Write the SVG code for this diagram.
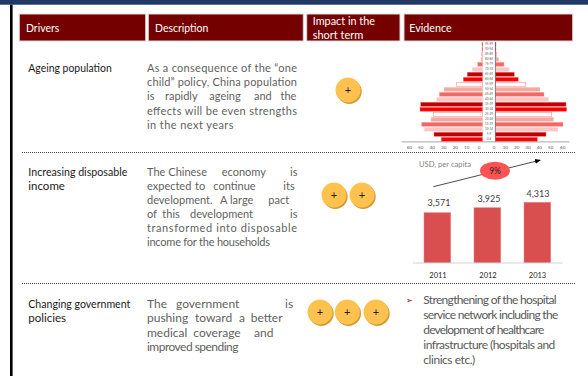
<svg xmlns="http://www.w3.org/2000/svg" width="588" height="376" viewBox="0 0 588 376">
<style>
text{font-family:Lato,"Open Sans","Liberation Sans",sans-serif}
.hbox{fill:#750000;stroke:#D9D9D9;stroke-width:1}
.hdr{font-size:12px;fill:#fff}
.drv{font-size:11.5px;fill:#1a1a1a}
.dsc{font-size:11px;fill:#5f5f5f}
.dsc3{font-size:12px;fill:#5f5f5f}
.ev{font-size:12px;fill:#595959}
.sep{stroke:#404040;stroke-width:1;stroke-dasharray:1 1;fill:none}
.pc{fill:#FFC24E}
.ps{fill:#D49A38}
.pt{font-size:11px;fill:#1a1a1a;text-anchor:middle}
.c0{fill:#C00000;stroke:#E07070;stroke-width:0.4}
.c1{fill:#FF0000;stroke:#FF8080;stroke-width:0.4}
.c2{fill:#FFFFFF;stroke:#FF9090;stroke-width:0.6}
.c3{fill:#F6A8A0;stroke:#FBD0CC;stroke-width:0.4}
.c4{fill:#EF6A66;stroke:#F8A8A6;stroke-width:0.4}
.c5{fill:#FFC4C4;stroke:#FFE0E0;stroke-width:0.4}
.age{font-size:3px;fill:#595959;text-anchor:middle}
.tick{font-size:4.6px;fill:#595959;text-anchor:middle}
.bar{fill:#D94F50;stroke:#E88080;stroke-width:0.5}
.val{font-size:9px;fill:#404040;text-anchor:middle}
.yr{font-size:7.5px;fill:#262626;text-anchor:middle}
</style>
<defs>
<marker id="ah" markerWidth="6" markerHeight="6" refX="5" refY="3" orient="auto" markerUnits="userSpaceOnUse">
<path d="M0,0.5 L6,3 L0,5.5 Z" fill="#000"/>
</marker>
</defs>

<rect x="0" y="0" width="588" height="4.7" fill="#1F3864"/>
<rect x="10" y="4.7" width="2.6" height="372" fill="#000"/>

<g id="header">
<rect class="hbox" x="19.3" y="14" width="126.4" height="27"/>
<rect class="hbox" x="148.3" y="14" width="155" height="27"/>
<rect class="hbox" x="306.7" y="14" width="93.3" height="27"/>
<rect class="hbox" x="404" y="14" width="168.7" height="27"/>
<text class="hdr" x="26" y="32" textLength="33.3" lengthAdjust="spacingAndGlyphs">Drivers</text>
<text class="hdr" x="155" y="32" textLength="53.3" lengthAdjust="spacingAndGlyphs">Description</text>
<text class="hdr" x="312.7" y="24.5" textLength="62.3" lengthAdjust="spacingAndGlyphs">Impact in the</text>
<text class="hdr" x="312.7" y="39" textLength="50.6" lengthAdjust="spacingAndGlyphs">short term</text>
<text class="hdr" x="409.3" y="32" textLength="42.4" lengthAdjust="spacingAndGlyphs">Evidence</text>
</g>

<g id="separators">
<line class="sep" x1="22" y1="152.5" x2="575" y2="152.5"/>
<line class="sep" x1="22" y1="283.5" x2="575" y2="283.5"/>
</g>

<g id="row-ageing">
<text class="drv" x="28.3" y="72" textLength="83.4" lengthAdjust="spacingAndGlyphs">Ageing population</text>
<text class="dsc" x="147" y="72" textLength="150" lengthAdjust="spacing">As a consequence of the “one</text>
<text class="dsc" x="147" y="86.2" textLength="150" lengthAdjust="spacing">child” policy, China population</text>
<text class="dsc" y="100.4"><tspan x="147">is</tspan><tspan x="165">rapidly</tspan><tspan x="209.3">ageing</tspan><tspan x="254">and</tspan><tspan x="280.5">the</tspan></text>
<text class="dsc" x="147" y="114.6" textLength="150" lengthAdjust="spacing">effects will be even strengths</text>
<text class="dsc" x="147" y="128.8" textLength="86.5" lengthAdjust="spacing">in the next years</text>
<g id="impact-1">
<circle class="ps" cx="349.2" cy="91.5" r="12.5"/>
<circle class="pc" cx="348" cy="90" r="12.5"/>
<text class="pt" x="348" y="94">+</text>
</g>
</g>

<g id="pyramid">
<line x1="482.7" y1="42" x2="482.7" y2="141.7" stroke="#BFBFBF" stroke-width="0.6"/>
<rect class="c0" x="482" y="42.3" width="0.5" height="4"/><rect class="c0" x="495.5" y="42.3" width="0.5" height="4"/>
<rect class="c1" x="482" y="47.3" width="0.5" height="4"/><rect class="c1" x="495.5" y="47.3" width="0.5" height="4"/>
<rect class="c2" x="481.8" y="52.3" width="0.7" height="4"/><rect class="c2" x="495.5" y="52.3" width="1.2" height="4"/>
<rect class="c3" x="481" y="57.3" width="1.5" height="4"/><rect class="c3" x="495.5" y="57.3" width="3.2" height="4"/>
<rect class="c4" x="477.7" y="62.3" width="4.8" height="4"/><rect class="c4" x="495.5" y="62.3" width="8.5" height="4"/>
<rect class="c5" x="472.3" y="67.3" width="10.2" height="4"/><rect class="c5" x="495.5" y="67.3" width="13.8" height="4"/>
<rect class="c0" x="467.3" y="72.3" width="15.2" height="4"/><rect class="c0" x="495.5" y="72.3" width="18.8" height="4"/>
<rect class="c1" x="463.3" y="77.3" width="19.2" height="4"/><rect class="c1" x="495.5" y="77.3" width="22.8" height="4"/>
<rect class="c2" x="456.7" y="82.3" width="25.8" height="4"/><rect class="c2" x="495.5" y="82.3" width="30.2" height="4"/>
<rect class="c3" x="444" y="87.3" width="38.5" height="4"/><rect class="c3" x="495.5" y="87.3" width="44.5" height="4"/>
<rect class="c4" x="439.3" y="92.3" width="43.2" height="4"/><rect class="c4" x="495.5" y="92.3" width="48.5" height="4"/>
<rect class="c5" x="436.7" y="97.3" width="45.8" height="4"/><rect class="c5" x="495.5" y="97.3" width="53.2" height="4"/>
<rect class="c0" x="420.7" y="102.3" width="61.8" height="4"/><rect class="c0" x="495.5" y="102.3" width="70.5" height="4"/>
<rect class="c1" x="420" y="107.3" width="62.5" height="4"/><rect class="c1" x="495.5" y="107.3" width="71.2" height="4"/>
<rect class="c2" x="433.3" y="112.3" width="49.2" height="4"/><rect class="c2" x="495.5" y="112.3" width="56.2" height="4"/>
<rect class="c3" x="431" y="117.3" width="51.5" height="4"/><rect class="c3" x="495.5" y="117.3" width="58.2" height="4"/>
<rect class="c4" x="421.7" y="122.3" width="60.8" height="4"/><rect class="c4" x="495.5" y="122.3" width="67.5" height="4"/>
<rect class="c5" x="424.3" y="127.3" width="58.2" height="4"/><rect class="c5" x="495.5" y="127.3" width="62.5" height="4"/>
<rect class="c0" x="434" y="132.3" width="48.5" height="4"/><rect class="c0" x="495.5" y="132.3" width="50.5" height="4"/>
<rect class="c1" x="441.3" y="137.3" width="41.2" height="4"/><rect class="c1" x="495.5" y="137.3" width="41.8" height="4"/>
<line x1="495.4" y1="42" x2="495.4" y2="141.7" stroke="#404040" stroke-width="0.6"/>
<line x1="401.7" y1="141.9" x2="569.3" y2="141.9" stroke="#7F7F7F" stroke-width="0.7"/>
<text class="age" x="489" y="45.4">95-99</text>
<text class="age" x="489" y="50.4">90-94</text>
<text class="age" x="489" y="55.4">85-89</text>
<text class="age" x="489" y="60.4">80-84</text>
<text class="age" x="489" y="65.4">75-79</text>
<text class="age" x="489" y="70.4">70-74</text>
<text class="age" x="489" y="75.4">65-69</text>
<text class="age" x="489" y="80.4">60-64</text>
<text class="age" x="489" y="85.4">55-59</text>
<text class="age" x="489" y="90.4">50-54</text>
<text class="age" x="489" y="95.4">45-49</text>
<text class="age" x="489" y="100.4">40-44</text>
<text class="age" x="489" y="105.4">35-39</text>
<text class="age" x="489" y="110.4">30-34</text>
<text class="age" x="489" y="115.4">25-29</text>
<text class="age" x="489" y="120.4">20-24</text>
<text class="age" x="489" y="125.4">15-19</text>
<text class="age" x="489" y="130.4">10-14</text>
<text class="age" x="489" y="135.4">5-9</text>
<text class="age" x="489" y="140.4">0-4</text>
<text class="tick" x="409.3" y="148.5">60</text>
<text class="tick" x="420.7" y="148.5">50</text>
<text class="tick" x="432.3" y="148.5">40</text>
<text class="tick" x="443.7" y="148.5">30</text>
<text class="tick" x="455.3" y="148.5">20</text>
<text class="tick" x="466.7" y="148.5">10</text>
<text class="tick" x="479" y="148.5">0</text>
<text class="tick" x="494" y="148.5">0</text>
<text class="tick" x="505.3" y="148.5">10</text>
<text class="tick" x="516.7" y="148.5">20</text>
<text class="tick" x="528" y="148.5">30</text>
<text class="tick" x="539.3" y="148.5">40</text>
<text class="tick" x="550.7" y="148.5">50</text>
<text class="tick" x="562.7" y="148.5">60</text>
</g>

<g id="row-income">
<text class="drv" x="28.3" y="176" textLength="99" lengthAdjust="spacingAndGlyphs">Increasing disposable</text>
<text class="drv" x="28.3" y="190">income</text>
<text class="dsc" y="176"><tspan x="147">The</tspan><tspan x="168.3">Chinese</tspan><tspan x="221.7">economy</tspan><tspan x="290">is</tspan></text>
<text class="dsc" y="189.9"><tspan x="147">expected</tspan><tspan x="195">to</tspan><tspan x="213.3">continue</tspan><tspan x="283.3">its</tspan></text>
<text class="dsc" y="203.8"><tspan x="147">development.</tspan><tspan x="220">A</tspan><tspan x="230">large</tspan><tspan x="268.3">pact</tspan></text>
<text class="dsc" y="217.7"><tspan x="147">of</tspan><tspan x="162.3">this</tspan><tspan x="190">development</tspan><tspan x="290">is</tspan></text>
<text class="dsc" x="147" y="231.6" textLength="150" lengthAdjust="spacing">transformed into disposable</text>
<text class="dsc" x="147" y="245.5" textLength="123" lengthAdjust="spacing">income for the households</text>
<g id="impact-2">
<circle class="ps" cx="335.2" cy="196.5" r="12.5"/>
<circle class="pc" cx="334" cy="195" r="12.5"/>
<text class="pt" x="334" y="199">+</text>
<circle class="ps" cx="363.2" cy="196.5" r="12.5"/>
<circle class="pc" cx="362" cy="195" r="12.5"/>
<text class="pt" x="362" y="199">+</text>
</g>
</g>

<g id="income-chart">
<text x="419" y="166.5" font-size="7.5" fill="#7F7F7F" textLength="52" lengthAdjust="spacingAndGlyphs">USD, per capita</text>
<g id="connectors">
<line x1="433.3" y1="186.7" x2="540" y2="160.2" stroke="#000" stroke-width="0.7" marker-end="url(#ah)"/>
</g>
<ellipse cx="495" cy="170.7" rx="15" ry="9" fill="#FF5252"/>
<text x="495" y="173.8" font-size="8.5" fill="#262626" text-anchor="middle">9%</text>
<rect class="bar" x="424" y="212.7" width="26.7" height="50"/>
<rect class="bar" x="474" y="207.7" width="26.7" height="55"/>
<rect class="bar" x="524" y="202.3" width="26.7" height="60.4"/>
<line x1="413" y1="263" x2="562.7" y2="263" stroke="#BFBFBF" stroke-width="0.7"/>
<text class="val" x="439" y="206">3,571</text>
<text class="val" x="489" y="202">3,925</text>
<text class="val" x="538" y="196.5">4,313</text>
<text class="yr" x="438" y="277.5">2011</text>
<text class="yr" x="488" y="277.5">2012</text>
<text class="yr" x="537.5" y="277.5">2013</text>
</g>

<g id="row-policy">
<text class="drv" x="28.3" y="307.5" textLength="102" lengthAdjust="spacingAndGlyphs">Changing government</text>
<text class="drv" x="28.3" y="322">policies</text>
<text class="dsc3" y="307.5"><tspan x="147">The</tspan><tspan x="176">government</tspan><tspan x="285">is</tspan></text>
<text class="dsc3" y="322"><tspan x="147">pushing</tspan><tspan x="195">toward</tspan><tspan x="239">a</tspan><tspan x="250.7">better</tspan></text>
<text class="dsc3" y="336.7"><tspan x="147">medical</tspan><tspan x="193.3">coverage</tspan><tspan x="254">and</tspan></text>
<text class="dsc3" x="147" y="351.4" textLength="91.5" lengthAdjust="spacing">improved spending</text>
<g id="impact-3">
<circle class="ps" cx="321.2" cy="313.5" r="12.5"/>
<circle class="pc" cx="320" cy="312" r="12.5"/>
<text class="pt" x="320" y="316">+</text>
<circle class="ps" cx="348.5" cy="313.5" r="12.5"/>
<circle class="pc" cx="347.3" cy="312" r="12.5"/>
<text class="pt" x="347.3" y="316">+</text>
<circle class="ps" cx="377.2" cy="313.5" r="12.5"/>
<circle class="pc" cx="376" cy="312" r="12.5"/>
<text class="pt" x="376" y="316">+</text>
</g>
<text x="406" y="303" font-size="8" fill="#8B0000" style="font-family:'DejaVu Sans',sans-serif">➢</text>
<text class="ev" x="423.3" y="304" textLength="133.4" lengthAdjust="spacing">Strengthening of the hospital</text>
<text class="ev" x="423.3" y="319" textLength="135" lengthAdjust="spacing">service network including the</text>
<text class="ev" x="423.3" y="334" textLength="121" lengthAdjust="spacing">development of healthcare</text>
<text class="ev" x="423.3" y="349" textLength="132" lengthAdjust="spacing">infrastructure (hospitals and</text>
<text class="ev" x="423.3" y="364" textLength="52" lengthAdjust="spacing">clinics etc.)</text>
</g>
</svg>
